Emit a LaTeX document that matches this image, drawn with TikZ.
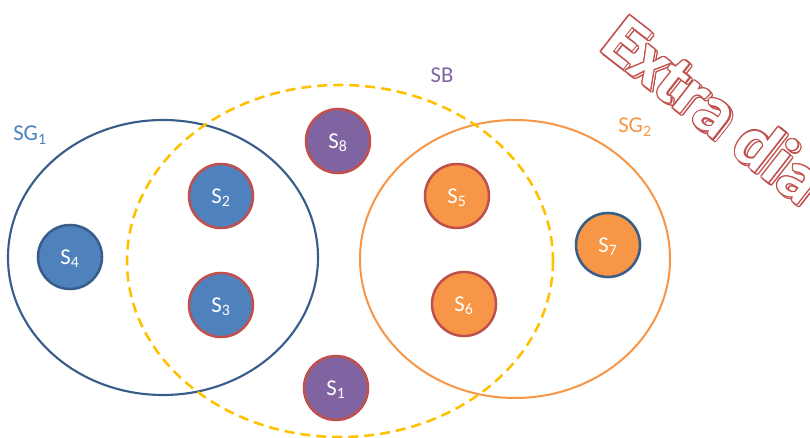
\documentclass[tikz,border=0pt]{standalone}
\usepackage{fontspec}
\setmainfont{Carlito}
\usepackage{xcolor}
\usetikzlibrary{calc}
\definecolor{sblue}{HTML}{4F81BD}
\definecolor{sdark}{HTML}{385D8A}
\definecolor{sred}{HTML}{C0504D}
\definecolor{sorange}{HTML}{F79646}
\definecolor{spurple}{HTML}{8064A2}
\definecolor{syellow}{HTML}{FFC000}

\begin{document}
\begin{tikzpicture}[x=0.75pt,y=-0.75pt,
  every node/.style={font=\fontsize{17}{20}\selectfont},
  member/.style={circle,minimum size=48pt,inner sep=0pt,line width=1.9pt,text=white,text depth=0pt},
  grouplabel/.style={anchor=base,inner sep=0pt},
  watermark/.style={anchor=base west,inner sep=0pt,rotate=-38,font=\fontsize{53}{60}\selectfont\bfseries}]
  \useasboundingbox (0,0) rectangle (810,438);

  % groups
  \draw[sdark,line width=1.6pt] (163,257.5) ellipse [x radius=155, y radius=137.5];
  \draw[sorange,line width=1.5pt] (515,259) ellipse [x radius=155, y radius=139];
  \draw[syellow,line width=1.9pt,dash pattern=on 7.5pt off 4.5pt] (340,261) ellipse [x radius=213, y radius=176];

  \node[grouplabel,text=sblue] (9) at (30,141) {SG\textsubscript{1}};
  \node[grouplabel,text=spurple] (10) at (442,83) {SB};
  \node[grouplabel,text=sorange] (11) at (635,133) {SG\textsubscript{2}};

  % members
  \node[member,draw=sred,fill=spurple] (1) at (336,388) {S\textsubscript{1}};
  \node[member,draw=sred,fill=sblue] (2) at (221,196) {S\textsubscript{2}};
  \node[member,draw=sred,fill=sblue] (3) at (221,305) {S\textsubscript{3}};
  \node[member,draw=sdark,fill=sblue] (4) at (70,257) {S\textsubscript{4}};
  \node[member,draw=sred,fill=sorange] (5) at (457,196) {S\textsubscript{5}};
  \node[member,draw=sred,fill=sorange] (6) at (464,304) {S\textsubscript{6}};
  \node[member,draw=sdark,fill=sorange] (7) at (608,245) {S\textsubscript{7}};
  \node[member,draw=sred,fill=spurple] (8) at (338,141) {S\textsubscript{8}};

  % outlined text with shadow
  \foreach \dx/\dy [count=\k] in {2.2/2.2,0/0}{
    \foreach \a [count=\i] in {0,30,...,330}
      \node[watermark,text=sred] (w\k-\i) at ($(598,49)+(\dx,\dy)+(\a:1.3)$) {Extra dia};
    \node[watermark,text=white] (w\k) at ($(598,49)+(\dx,\dy)$) {Extra dia};
  }
\end{tikzpicture}
\end{document}
